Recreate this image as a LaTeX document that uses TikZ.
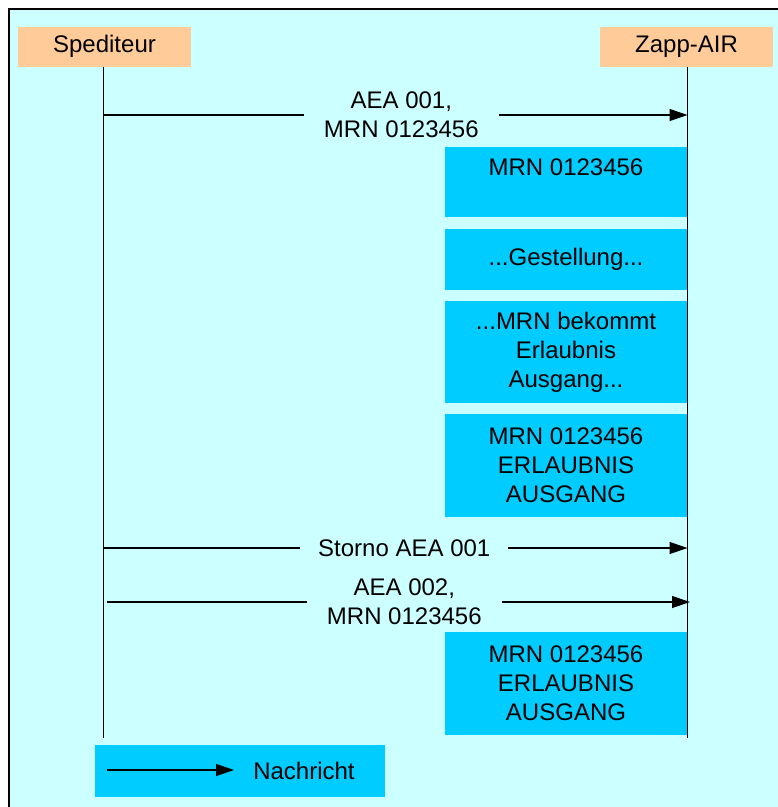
\documentclass[tikz,border=0pt]{standalone}
\usepackage{fontspec}
\setmainfont{Liberation Sans}
\usetikzlibrary{arrows.meta}
\definecolor{bgcyan}{HTML}{CCFFFF}
\definecolor{boxcyan}{HTML}{00CCFF}
\definecolor{headorange}{HTML}{FFCC99}

\begin{document}
\begin{tikzpicture}[x=1pt,y=-1pt]
\tikzset{
  labelfont/.style={font=\fontsize{24}{29}\selectfont},
  headnode/.style={fill=headorange,minimum width=173pt,minimum height=40pt,inner sep=0pt,labelfont},
  statebox/.style={fill=boxcyan,minimum width=242pt,inner sep=0pt,align=center,labelfont},
  msglabel/.style={fill=bgcyan,align=center,inner xsep=20pt,inner ysep=0pt,labelfont},
  directed/.style={-{Triangle[length=18pt,width=12pt]},line width=1.2pt},
  lifeline/.style={line width=1.2pt}
}
\useasboundingbox (0,0) rectangle (778,807);
\fill[bgcyan] (9,9) rectangle (790,820);
\draw[line width=1.2pt] (790,9) -- (9,9) -- (9,820);
% participants
\node[headnode] (sped) at (104.5,46.5) {Spediteur};
\node[headnode] (zapp) at (686.5,47) {Zapp-AIR};
\coordinate (sped_end) at (103.5,738);
\coordinate (zapp_end) at (687.5,738);
\draw[lifeline] (sped.south -| sped_end) -- (sped_end);
\draw[lifeline] (zapp.south -| zapp_end) -- (zapp_end);
% states
\node[statebox,minimum height=70pt] (s_mrn) at (566,182) {MRN 0123456\\ ~};
\node[statebox,minimum height=61pt] (s_gest) at (566,259.5) {...Gestellung...};
\node[statebox,minimum height=102pt] (s_bek) at (566,352) {...MRN bekommt\\Erlaubnis\\Ausgang...};
\node[statebox,minimum height=103pt] (s_erl1) at (566,465.5) {MRN 0123456\\ERLAUBNIS\\AUSGANG};
\node[statebox,minimum height=103pt] (s_erl2) at (566,683.5) {MRN 0123456\\ERLAUBNIS\\AUSGANG};
% messages
\coordinate (m1_s) at (103.5,115);
\coordinate (m1_z) at (687.5,115);
\coordinate (m2_s) at (103.5,548);
\coordinate (m2_z) at (687.5,548);
\coordinate (m3_s) at (107,602);
\coordinate (m3_z) at (690,602);
\draw[directed] (m1_s) -- node[msglabel,pos=0.51] {AEA 001,\\MRN 0123456} (m1_z);
\draw[directed] (m2_s) -- node[msglabel,pos=0.515,inner xsep=18pt] {Storno AEA 001} (m2_z);
\draw[directed] (m3_s) -- node[msglabel,pos=0.51] {AEA 002,\\MRN 0123456} (m3_z);
% legend
\node[fill=boxcyan,minimum width=290pt,minimum height=52pt,inner sep=0pt] (legend) at (240,771) {};
\coordinate (leg_a) at (107,770);
\coordinate (leg_b) at (234,770);
\draw[directed] (leg_a) -- (leg_b);
\node[labelfont,inner sep=0pt] (leg_txt) at (304,771) {Nachricht};
\end{tikzpicture}
\end{document}
